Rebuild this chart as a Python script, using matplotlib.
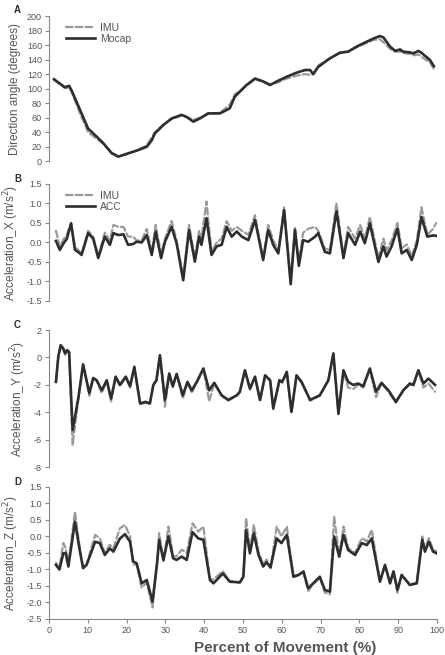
import numpy as np
import matplotlib
matplotlib.use("Agg")
import matplotlib.pyplot as plt

plt.rcParams['font.family'] = ['Liberation Sans', 'DejaVu Sans']

# ---- panel A: direction angle ----
xa = [1.3, 4.1, 5.2, 5.8, 8.0, 10.1, 12.3, 14.0, 16.2, 17.9, 20.4, 22.6, 25.2, 26.5, 27.3,
      29.5, 31.6, 34.2, 35.5, 37.2, 38.9, 41.0, 44.1, 46.6, 47.9, 50.9, 53.1, 55.2, 57.0,
      58.7, 61.3, 63.8, 66.0, 67.3, 68.1, 69.4, 72.4, 75.0, 77.1, 79.3, 81.9, 83.6, 85.3,
      86.2, 87.9, 89.2, 90.5, 91.3, 93.0, 93.9, 95.2, 96.0, 98.2, 99.2]
mocap = [113, 102, 104, 98, 71, 45, 34, 25, 11, 6.4, 11, 14.7, 20, 29, 38.5,
         50, 59, 64, 61, 54.6, 59, 66, 66, 73, 89, 105, 114, 110, 105,
         110, 116.5, 122, 125.7, 125.7, 120, 130, 141.7, 149.5, 151, 158, 164.7, 169, 172.5,
         170.6, 158, 152, 154, 151, 150, 148.6, 152, 149.5, 139.4, 131]
imu_a = [112, 101, 101, 96, 66, 40, 31, 24, 12, 7, 10, 15, 22, 33, 40,
         51, 58, 63, 61, 57, 60, 65, 67, 78, 92, 104, 113, 110, 106,
         108, 114, 118, 120, 119, 120, 132, 142, 150, 151, 157, 163, 167, 168,
         164, 155, 151, 151, 149, 148, 146, 147, 144, 136, 127]

# ---- panel B: acceleration X ----
xb = [1.8, 2.8, 3.9, 4.6, 5.7, 6.7, 7.6, 8.4, 10.1, 11.4, 12.7, 14.4, 15.7, 16.6, 17.9,
      19.2, 20.4, 21.7, 22.6, 23.9, 25.2, 26.5, 27.5, 28.9, 29.9, 31.6, 32.9, 34.6, 36.1,
      37.6, 38.7, 39.3, 40.6, 41.9, 43.2, 44.5, 45.8, 47.1, 48.4, 49.7, 51.4, 53.1, 55.2,
      56.5, 57.8, 59.1, 60.6, 62.3, 63.4, 64.4, 65.5, 66.8, 68.6, 69.4, 71.1, 72.4, 74.1,
      75.9, 77.1, 78.9, 80.2, 81.4, 82.7, 84.9, 86.2, 87.0, 88.3, 89.8, 90.9, 92.2, 93.5,
      94.8, 96.0, 97.5, 99.0, 99.8]
acc_x = [0.04, -0.19, 0.0, 0.09, 0.49, -0.19, -0.25, -0.32, 0.24, 0.1, -0.4, 0.15, -0.06, 0.24, 0.19,
         0.21, -0.06, -0.04, 0.02, 0.0, 0.19, -0.32, 0.28, -0.4, 0.02, 0.4, -0.02, -0.97, 0.32,
         -0.49, 0.15, -0.06, 0.62, -0.32, -0.1, -0.06, 0.4, 0.15, 0.28, 0.15, 0.06, 0.58, -0.45,
         0.32, -0.06, -0.28, 0.83, -1.07, 0.32, -0.6, 0.06, 0.02, 0.15, 0.24, -0.24, -0.28, 0.8,
         -0.4, 0.24, -0.06, 0.28, -0.02, 0.49, -0.5, -0.1, -0.36, -0.1, 0.36, -0.28, -0.19, -0.45,
         -0.06, 0.65, 0.15, 0.18, 0.17]
imu_x = [0.3, -0.1, 0.1, 0.2, 0.5, -0.1, -0.2, -0.3, 0.3, 0.15, -0.35, 0.25, 0.05, 0.45, 0.4,
         0.4, 0.15, 0.15, 0.05, 0.05, 0.35, -0.25, 0.45, -0.3, 0.1, 0.55, 0.05, -0.9, 0.45,
         -0.4, 0.3, 0.1, 1.05, -0.25, 0.0, 0.1, 0.55, 0.3, 0.4, 0.3, 0.2, 0.7, -0.4,
         0.45, 0.05, -0.2, 0.9, -1.0, 0.4, -0.5, 0.25, 0.35, 0.4, 0.3, -0.15, -0.2, 1.0,
         -0.35, 0.4, 0.1, 0.45, 0.1, 0.65, -0.4, 0.1, -0.2, 0.05, 0.5, -0.15, -0.05, -0.35,
         0.05, 0.9, 0.2, 0.35, 0.5]

# ---- panel C: acceleration Y ----
xc = [1.8, 2.4, 3.0, 3.7, 4.2, 4.7, 5.2, 6.1, 7.6, 8.8, 10.4, 11.4, 12.3, 13.6, 14.9,
      16.0, 17.2, 18.3, 19.8, 20.9, 22.0, 23.5, 24.9, 26.0, 26.9, 27.7, 28.6, 29.9, 31.0,
      31.9, 32.9, 34.5, 35.7, 36.8, 38.1, 39.8, 41.3, 42.6, 44.5, 46.2, 48.4, 49.2, 50.5,
      51.8, 53.1, 54.4, 55.7, 57.0, 57.8, 59.4, 60.1, 61.3, 62.5, 63.8, 65.1, 67.3, 69.8,
      72.0, 73.3, 74.6, 75.9, 77.1, 78.4, 79.7, 81.0, 82.7, 84.3, 85.7, 87.5, 89.4, 91.3,
      93.0, 93.9, 95.2, 96.5, 97.8, 99.5]
acc_y = [-1.78, 0.05, 0.9, 0.66, 0.3, 0.54, 0.4, -5.3, -2.9, -0.5, -2.6, -1.5, -1.66, -2.4, -1.66,
         -3.0, -1.4, -2.0, -1.4, -2.1, -0.68, -3.36, -3.24, -3.36, -2.0, -1.66, 0.17, -3.1, -1.17,
         -2.1, -1.2, -2.76, -1.78, -2.4, -1.78, -0.8, -2.4, -1.85, -2.76, -3.1, -2.76, -2.5, -0.93,
         -2.27, -1.4, -3.1, -1.3, -1.66, -3.7, -1.66, -1.78, -1.05, -3.98, -1.3, -1.78, -3.1, -2.76,
         -1.66, 0.3, -4.1, -0.93, -1.78, -2.0, -1.9, -2.1, -0.8, -2.5, -1.85, -2.4, -3.24, -2.4,
         -1.9, -2.0, -0.93, -1.9, -1.54, -2.0]
imu_y = [-1.8, 0.0, 0.8, 0.5, 0.2, 0.45, 0.3, -6.4, -3.0, -0.55, -2.8, -1.55, -1.7, -2.6, -1.7,
         -3.2, -1.45, -2.1, -1.45, -2.2, -0.75, -3.4, -3.3, -3.4, -2.05, -1.7, 0.1, -3.6, -1.2,
         -2.2, -1.25, -3.0, -1.8, -2.6, -1.8, -0.85, -3.2, -1.9, -2.8, -3.15, -2.8, -2.55, -0.95,
         -2.4, -1.45, -3.2, -1.35, -1.7, -3.8, -1.7, -1.85, -1.1, -4.0, -1.35, -1.85, -3.15, -2.8,
         -1.7, 0.25, -4.15, -1.0, -2.2, -2.3, -2.0, -2.2, -0.85, -2.9, -1.9, -2.5, -3.3, -2.45,
         -1.95, -2.1, -1.0, -2.2, -1.9, -2.5]

# ---- panel D: acceleration Z ----
xd = [1.8, 2.7, 3.7, 4.3, 5.0, 6.7, 8.0, 8.8, 9.7, 11.9, 13.1, 14.4, 15.7, 16.6, 18.3,
      19.6, 20.9, 21.7, 22.6, 23.9, 25.2, 26.7, 27.9, 28.4, 29.5, 30.8, 32.0, 32.9, 34.2,
      35.5, 37.0, 38.5, 39.8, 41.5, 42.4, 44.8, 46.6, 49.2, 50.1, 50.8, 51.8, 52.8, 54.0,
      55.2, 56.1, 57.1, 58.7, 59.9, 61.3, 63.0, 64.3, 65.6, 66.8, 68.1, 69.8, 71.1, 72.4,
      73.5, 74.8, 75.9, 77.1, 78.9, 80.6, 81.9, 83.2, 85.3, 86.6, 87.9, 88.8, 89.8, 90.9,
      93.0, 94.8, 96.2, 96.9, 97.9, 99.0, 99.9]
acc_z = [-0.86, -1.0, -0.51, -0.5, -0.91, 0.45, -0.46, -0.96, -0.86, -0.16, -0.2, -0.56, -0.36, -0.46, -0.06,
         0.07, -0.16, -0.76, -0.81, -1.42, -1.32, -1.97, -0.76, -0.1, -0.71, 0.0, -0.66, -0.71, -0.61,
         -0.71, 0.13, -0.06, -0.1, -1.32, -1.42, -1.12, -1.37, -1.39, -1.22, 0.2, -0.51, 0.1, -0.56,
         -0.91, -0.78, -0.94, -0.06, -0.2, 0.05, -1.22, -1.17, -1.06, -1.57, -1.42, -1.22, -1.62, -1.67,
         0.0, -0.61, 0.05, -0.41, -0.56, -0.2, -0.26, -0.06, -1.37, -0.86, -1.42, -1.06, -1.62, -1.17,
         -1.47, -1.42, -0.1, -0.46, -0.16, -0.46, -0.51]
imu_z = [-0.8, -0.95, -0.2, -0.35, -0.85, 0.75, -0.4, -0.95, -0.85, 0.05, -0.05, -0.5, -0.25, -0.35, 0.25,
         0.35, 0.0, -0.85, -0.85, -1.55, -1.4, -2.15, -0.8, 0.1, -0.75, 0.3, -0.6, -0.6, -0.4,
         -0.5, 0.4, 0.15, 0.3, -1.3, -1.3, -1.05, -1.35, -1.4, -1.2, 0.55, -0.4, 0.35, -0.45,
         -0.85, -0.7, -0.95, 0.3, 0.0, 0.3, -1.2, -1.15, -1.1, -1.65, -1.45, -1.25, -1.7, -1.75,
         0.6, -0.6, 0.3, -0.35, -0.5, -0.05, -0.15, 0.2, -1.35, -0.9, -1.35, -1.05, -1.7, -1.15,
         -1.45, -1.4, 0.0, -0.35, -0.05, -0.4, -0.45]

DARK = '#2e2e2e'
GREY = '#9a9a9a'
TXT = '#555555'

fig = plt.figure(figsize=(4.45, 6.55), dpi=100)
left, width = 0.110, 0.872
rects = [(0.7537, 0.2218), (0.5405, 0.1786), (0.287, 0.209), (0.055, 0.2015)]
axes = [fig.add_axes([left, b, width, h]) for b, h in rects]

panels = [
    (xa, imu_a, mocap, 'Mocap', 'Direction angle (degrees)', (0, 200), np.arange(0, 201, 20), '{:.0f}'),
    (xb, imu_x, acc_x, 'ACC', 'Acceleration_X (m/s$^2$)', (-1.5, 1.5), np.arange(-1.5, 1.51, 0.5), '{:.1f}'),
    (xc, imu_y, acc_y, None, 'Acceleration_Y (m/s$^2$)', (-8, 2), np.arange(-8, 2.1, 2), '{:.0f}'),
    (xd, imu_z, acc_z, None, 'Acceleration_Z (m/s$^2$)', (-2.5, 1.5), np.arange(-2.5, 1.51, 0.5), '{:.1f}'),
]
letters = ['A', 'B', 'C', 'D']

for i, (ax, (x, imu, ref, refname, ylab, ylim, yt, fmt)) in enumerate(zip(axes, panels)):
    ax.plot(x, imu, color=GREY, lw=1.6, ls=(0, (3, 1.4)), label='IMU',
            dash_joinstyle='round', dash_capstyle='round')
    ax.plot(x, ref, color=DARK, lw=1.9, label=refname, solid_joinstyle='round')
    ax.set_xlim(0, 100)
    ax.set_ylim(*ylim)
    ax.set_yticks(yt)
    ax.set_yticklabels([fmt.format(v) for v in yt])
    ax.set_ylabel(ylab, fontsize=8.5, color=TXT, labelpad=4)
    for s in ['top', 'right']:
        ax.spines[s].set_visible(False)
    ax.spines['left'].set_color('#888888')
    ax.spines['bottom'].set_color('#888888')
    ax.tick_params(axis='both', labelsize=6.5, colors=TXT, length=3, width=0.8, direction='out', pad=2)
    ax.tick_params(axis='both', color='#888888')
    if i < 3:
        ax.spines['bottom'].set_visible(False)
        ax.set_xticks([])
    else:
        ax.set_xticks(np.arange(0, 101, 10))
        ax.set_xlabel('Percent of Movement (%)', fontsize=11, color=TXT, fontweight='bold')
        ax.xaxis.set_label_coords(0.608, -0.17)
    if refname is not None:
        ax.legend(loc='upper left', bbox_to_anchor=(0.02, 1.02), frameon=False, fontsize=7.5,
                  handlelength=2.8, labelspacing=0.1, handletextpad=0.5, labelcolor=TXT)
    ax.text(-0.09, 1.04, letters[i], transform=ax.transAxes, fontsize=7, fontweight='bold',
            color=DARK, ha='left', va='center')

fig.savefig('out.png', dpi=100)
